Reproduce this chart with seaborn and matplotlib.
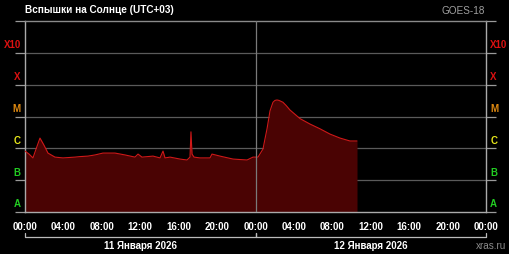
import matplotlib
matplotlib.use("Agg")
import matplotlib.pyplot as plt
from matplotlib.ticker import FixedLocator, FixedFormatter, NullFormatter, MultipleLocator
import pandas as pd
import seaborn as sns

# ---- data (hours since 00:00 11 Jan 2026, X-ray flux W/m^2) ----
hours = [0.0, 0.42, 0.83, 1.15, 1.56, 1.98, 2.39, 3.12, 3.96, 5.21, 5.73, 6.56, 7.29,
         8.12, 9.37, 10.41, 11.45, 11.77, 12.18, 13.33, 14.06, 14.37, 14.58, 15.1,
         16.14, 16.87, 17.18, 17.28, 17.39, 17.6, 18.22, 19.26, 19.47, 20.3, 21.66,
         23.12, 23.74, 24.26, 24.78, 24.99, 25.2, 25.51, 25.82, 26.03, 26.24, 26.45,
         26.86, 27.2, 27.59, 28.63, 29.67, 30.72, 31.76, 32.8, 33.84, 34.57]
flux = [8.2e-7, 6.6e-7, 5.0e-7, 9.5e-7, 2.1e-6, 1.25e-6, 7.1e-7, 5.3e-7, 5.0e-7,
        5.3e-7, 5.5e-7, 5.7e-7, 6.2e-7, 7.1e-7, 7.1e-7, 6.2e-7, 5.3e-7, 6.6e-7,
        5.3e-7, 5.7e-7, 5.0e-7, 8.2e-7, 5.0e-7, 5.3e-7, 4.6e-7, 4.3e-7, 5.3e-7,
        3.3e-6, 6.6e-7, 5.3e-7, 5.0e-7, 5.0e-7, 6.6e-7, 5.7e-7, 4.6e-7, 4.3e-7,
        5.3e-7, 5.3e-7, 9.5e-7, 2.0e-6, 4.1e-6, 1.5e-5, 2.8e-5, 3.2e-5, 3.3e-5,
        3.2e-5, 2.8e-5, 2.2e-5, 1.6e-5, 8.6e-6, 5.8e-6, 4.1e-6, 2.8e-6, 2.1e-6,
        1.7e-6, 1.7e-6]

class_labels = ["A", "B", "C", "M", "X", "X10"]
class_colors = ["#22cc22", "#22cc22", "#e6e61a", "#e08a10", "#dd1111", "#dd1111"]
class_label_pos = [2e-8, 2e-7, 2e-6, 2e-5, 2e-4, 2e-3]
decades = [1e-8, 1e-7, 1e-6, 1e-5, 1e-4, 1e-3, 1e-2]

tick_hours = [0, 4, 8, 12, 16, 20, 24, 28, 32, 36, 40, 44, 48]
tick_labels = ["00:00", "04:00", "08:00", "12:00", "16:00", "20:00", "00:00",
               "04:00", "08:00", "12:00", "16:00", "20:00", "00:00"]
day_labels = ["11 Января 2026", "12 Января 2026"]
day_spans = [(0, 24), (24, 48)]

sns.set_style("dark")
plt.rcParams['font.family'] = ['Liberation Sans', 'DejaVu Sans']

fig = plt.figure(figsize=(5.1, 2.55), dpi=100, facecolor="black")
ax = fig.add_axes([25 / 510, 42 / 255, 461 / 510, 191 / 255])
ax.set_facecolor("black")

df = pd.DataFrame({"h": hours, "f": flux})
ax.fill_between(df["h"], 1e-8, df["f"], color="#4a0303", lw=0, zorder=2)
sns.lineplot(data=df, x="h", y="f", ax=ax, color="#d01818", lw=0.8, zorder=3)

ax.set_yscale("log")
ax.set_ylim(1e-8, 1e-2)
ax.set_xlim(0, 48)
ax.set_xlabel("")
ax.set_ylabel("")

# y axis
ax.yaxis.set_major_locator(FixedLocator(decades))
ax.yaxis.set_major_formatter(NullFormatter())
ax.yaxis.set_minor_locator(FixedLocator(class_label_pos))
ax.yaxis.set_minor_formatter(FixedFormatter(class_labels))
ax.tick_params(axis="y", which="major", direction="out", length=7.2, width=0.9,
               color="#9a9a9a", left=True, right=True)
ax.tick_params(axis="y", which="minor", length=0, left=True, right=True,
               labelleft=True, labelright=True, pad=3, labelsize=7)
ticks = ax.yaxis.get_minor_ticks()
for t, c in zip(ticks, class_colors):
    t.label1.set_color(c)
    t.label2.set_color(c)
    t.label1.set_fontweight("bold")
    t.label2.set_fontweight("bold")

ax.grid(False)
for d in decades[1:-1]:
    ax.axhline(d, color="#5a5a5a", lw=0.9, zorder=1)
ax.axvline(24, color="#7a7a7a", lw=0.9, zorder=4)

# x axis
ax.xaxis.set_major_locator(FixedLocator(tick_hours))
ax.xaxis.set_major_formatter(FixedFormatter(tick_labels))
ax.xaxis.set_minor_locator(MultipleLocator(1))
ax.tick_params(axis="x", which="major", direction="out", length=3.5, width=0.9,
               color="#bbbbbb", labelcolor="white", labelsize=7, pad=3)
ax.tick_params(axis="x", which="minor", direction="out", length=2, width=0.7,
               color="#bbbbbb")
for lab in ax.get_xticklabels():
    lab.set_fontweight("bold")

for s in ["left", "right", "bottom"]:
    ax.spines[s].set_color("#aaaaaa")
    ax.spines[s].set_linewidth(1.0)
ax.spines["top"].set_color("#8a8a8a")
ax.spines["top"].set_linewidth(1.0)

# date brackets
tr = ax.get_xaxis_transform()
for (a, b), lab in zip(day_spans, day_labels):
    ax.plot([a, a, b, b], [-0.108, -0.131, -0.131, -0.108], color="#bbbbbb",
            lw=0.9, transform=tr, clip_on=False)
    ax.text((a + b) / 2, -0.175, lab, transform=tr, ha="center", va="center",
            color="white", fontsize=7, fontweight="bold")

fig.text(25 / 510, 1 - 10 / 255, "Вспышки на Солнце (UTC+03)", color="white",
         fontsize=7.2, fontweight="bold", ha="left", va="center")
fig.text(485 / 510, 1 - 11 / 255, "GOES-18", color="#a0a0a0", fontsize=7.2,
         ha="right", va="center")
fig.text(506 / 510, 1 - 246 / 255, "xras.ru", color="#8a8a8a", fontsize=7.2,
         ha="right", va="center")

fig.savefig("out.png", dpi=100, facecolor="black")
